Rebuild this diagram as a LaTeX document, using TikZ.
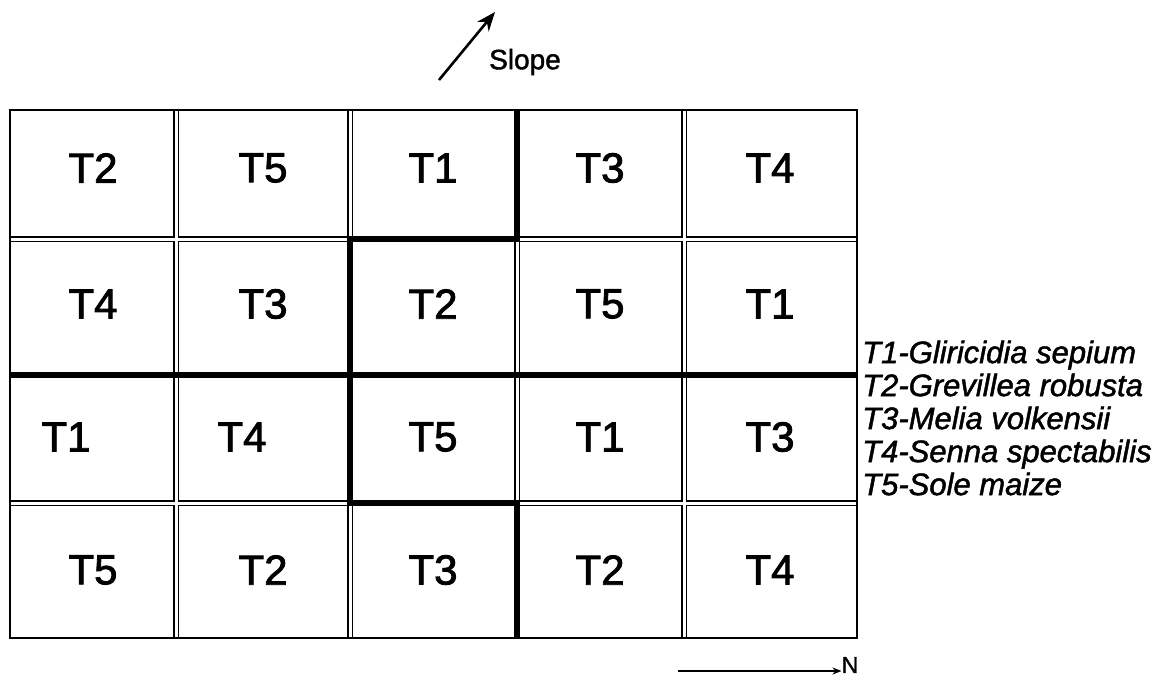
\documentclass[tikz,border=0pt]{standalone}
\usepackage{fontspec}
\setmainfont{Liberation Sans}
\newfontfamily\cellfont[FakeBold=2]{Liberation Sans}
\newfontfamily\legfont[FakeBold=1.5]{Liberation Sans}
\usetikzlibrary{arrows.meta}
\begin{document}
\begin{tikzpicture}[x=1pt,y=-1pt,
  cell/.style={font=\cellfont\fontsize{42}{48}\selectfont, inner sep=0pt},
  dblout/.style={line width=6pt, black},
  dblin/.style={line width=3pt, white},
  blockline/.style={line width=6.5pt, line join=miter},
  border/.style={line width=2pt},
  legendtext/.style={anchor=west, align=left, inner sep=0pt, font=\legfont\itshape\fontsize{31}{33}\selectfont},
  lbl/.style={inner sep=0pt}
]
\useasboundingbox (0,0) rectangle (1166,678);
% grid coordinates
\coordinate (TL) at (10,110);
\coordinate (BR) at (857,638);
% interior double lines: black pass
\foreach \x in {176,350,517,684} {\draw[dblout] (\x,110) -- (\x,638);}
\foreach \y in {239,375,503} {\draw[dblout] (10,\y) -- (857,\y);}
% interior double lines: white cores
\foreach \x in {176,350,517,684} {\draw[dblin] (\x,110) -- (\x,638);}
\foreach \y in {239,375,503} {\draw[dblin] (10,\y) -- (857,\y);}
% thick block boundaries
\draw[blockline] (517,110) -- (517,239) -- (350,239) -- (350,503) -- (517,503) -- (517,638);
\draw[blockline] (10,375) -- (857,375);
% outer border
\draw[border] (TL) rectangle (BR);
% cell labels
\node[cell] (r1c1) at (93,168) {T2};
\node[cell] (r1c2) at (263,168) {T5};
\node[cell] (r1c3) at (433,168) {T1};
\node[cell] (r1c4) at (600,168) {T3};
\node[cell] (r1c5) at (770,168) {T4};
\node[cell] (r2c1) at (93,304) {T4};
\node[cell] (r2c2) at (263,304) {T3};
\node[cell] (r2c3) at (433,304) {T2};
\node[cell] (r2c4) at (600,304) {T5};
\node[cell] (r2c5) at (770,304) {T1};
\node[cell] (r3c1) at (66,437) {T1};
\node[cell] (r3c2) at (242,437) {T4};
\node[cell] (r3c3) at (433,437) {T5};
\node[cell] (r3c4) at (600,437) {T1};
\node[cell] (r3c5) at (770,437) {T3};
\node[cell] (r4c1) at (93,570) {T5};
\node[cell] (r4c2) at (263,570) {T2};
\node[cell] (r4c3) at (433,570) {T3};
\node[cell] (r4c4) at (600,570) {T2};
\node[cell] (r4c5) at (770,570) {T4};
% legend
\node[legendtext] (legend) at (862,418) {T1-Gliricidia sepium\\T2-Grevillea robusta\\T3-Melia volkensii\\T4-Senna spectabilis\\T5-Sole maize};
% slope arrow
\coordinate (s0) at (439,80);
\coordinate (s1) at (495,12);
\draw[line width=2.6pt, -{Stealth[length=19pt,width=15pt]}] (s0) -- (s1);
\node[lbl, font=\legfont\fontsize{28}{32}\selectfont] (slope) at (525,62) {Slope};
% north arrow
\coordinate (n0) at (678,671);
\node[lbl, font=\legfont\fontsize{23}{26}\selectfont] (north) at (850,665) {N};
\draw[line width=1.6pt, -{Stealth[length=9pt,width=7pt]}] (n0) -- (north.west |- n0);
\end{tikzpicture}
\end{document}
